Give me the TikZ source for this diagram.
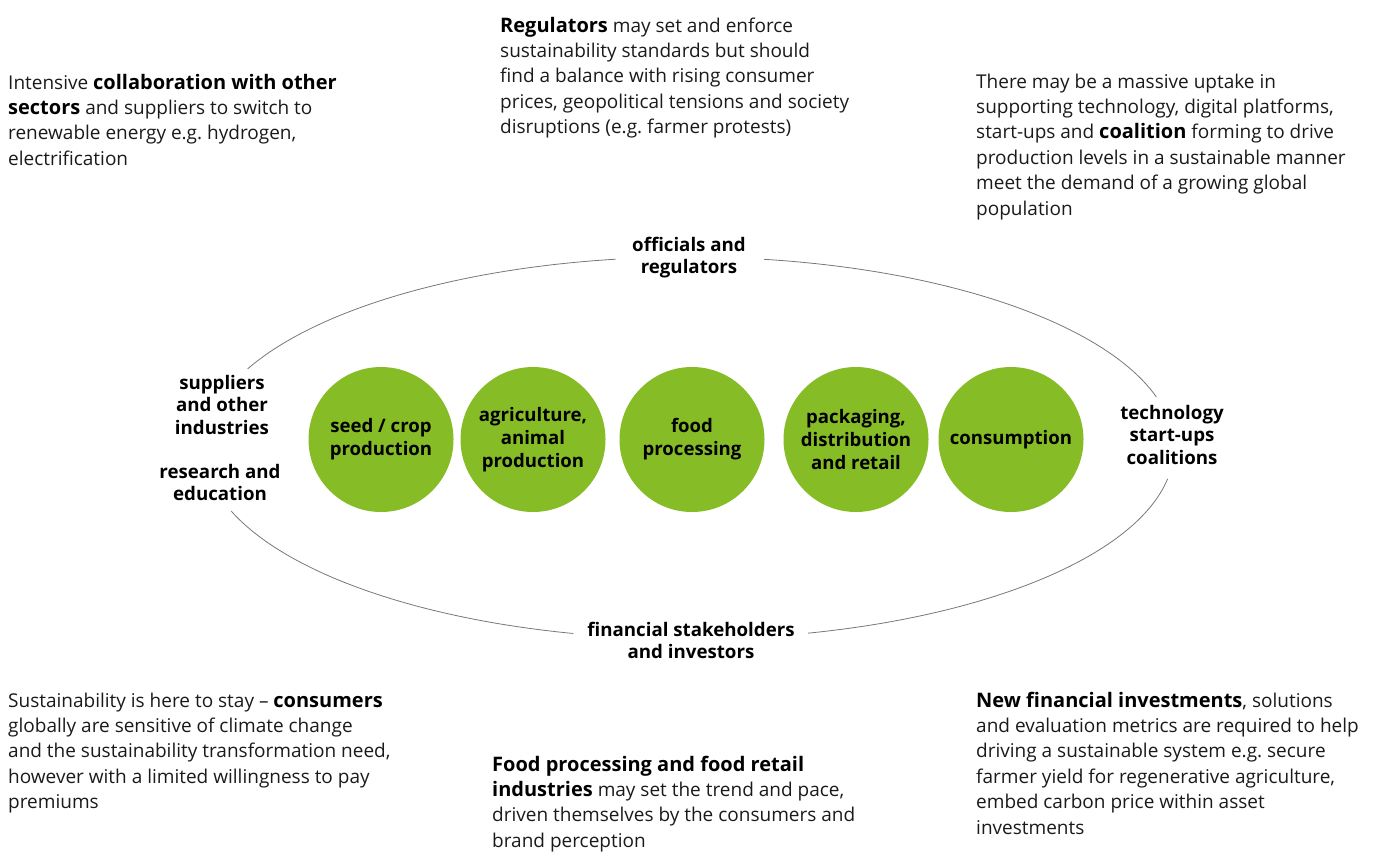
\documentclass[tikz,border=0pt]{standalone}
\usepackage{fontspec}
\setmainfont{Open Sans}
\frenchspacing
\definecolor{dgreen}{HTML}{86BC25}
\definecolor{ringgray}{HTML}{777777}
\definecolor{txtgray}{HTML}{1A1A1A}
\newcommand{\txtl}[1]{\begin{tabular}[t]{@{}l@{}}#1\end{tabular}}
\newcommand{\txtc}[1]{\begin{tabular}[t]{@{}c@{}}#1\end{tabular}}
\newcommand{\bb}[1]{{\bfseries\fontsize{20}{25.4}\selectfont\color{black}#1}}
\begin{document}
\begin{tikzpicture}[x=1pt,y=-1pt,
  body/.style={anchor=base west,inner sep=0pt,text=txtgray,font=\fontsize{19}{25.4}\selectfont},
  lbl/.style={anchor=base,inner sep=0pt,font=\bfseries\fontsize{18.7}{22.5}\selectfont},
  stage/.style={circle,fill=dgreen,minimum size=145pt,inner sep=0pt,align=center,
    font=\bfseries\fontsize{18.6}{23}\selectfont},
  ring/.style={draw=ringgray,line width=0.8pt}]
\useasboundingbox (0,0) rectangle (1383,852);

% ring
\coordinate (C) at (689,448);
\draw[ring] (C) ++(155.5:485pt and 191pt) arc[start angle=155.5,end angle=98.7,x radius=485pt,y radius=191pt];
\draw[ring] (C) ++(81.1:485pt and 191pt) arc[start angle=81.1,end angle=15.5,x radius=485pt,y radius=191pt];
\draw[ring] (C) ++(-9.3:485pt and 191pt) arc[start angle=-9.3,end angle=-75.8,x radius=485pt,y radius=191pt];
\draw[ring] (C) ++(256.2:485pt and 191pt) arc[start angle=256.2,end angle=199.3,x radius=485pt,y radius=191pt];

% stages
\node[stage] (s1) at (381,439.5) {seed / crop\\production};
\node[stage] (s2) at (533,439.5) {agriculture,\\animal\\production};
\node[stage] (s3) at (692,439.5) {food\\processing};
\node[stage] (s4) at (856,439.5) {packaging,\\distribution\\and retail};
\node[stage] (s5) at (1011,439.5) {consumption};

% ring labels
\node[lbl] (off) at (689,251) {\txtc{officials and\\regulators}};
\node[lbl] (sup) at (222,389) {\txtc{suppliers\\and other\\industries}};
\node[lbl] (res) at (220,478) {\txtc{research and\\education}};
\node[lbl] (tec) at (1172,419) {\txtc{technology\\start-ups\\coalitions}};
\node[lbl] (fin) at (691,636) {\txtc{financial stakeholders\\and investors}};

% explanatory texts
\node[body] (tl) at (8,89) {\txtl{Intensive \bb{collaboration with other}\\\bb{sectors} and suppliers to switch to\\renewable energy e.g. hydrogen,\\electrification}};
\node[body] (tc) at (500,32) {\txtl{\bb{Regulators} may set and enforce\\sustainability standards but should\\find a balance with rising consumer\\prices, geopolitical tensions and society\\disruptions (e.g. farmer protests)}};
\node[body] (tr) at (976,88) {\txtl{There may be a massive uptake in\\supporting technology, digital platforms,\\start-ups and \bb{coalition} forming to drive\\production levels in a sustainable manner\\meet the demand of a growing global\\population}};
\node[body] (bl) at (8,707) {\txtl{Sustainability is here to stay -- \bb{consumers}\\globally are sensitive of climate change\\and the sustainability transformation need,\\however with a limited willingness to pay\\premiums}};
\node[body] (bc) at (492,771) {\txtl{\bb{Food processing and food retail}\\\bb{industries} may set the trend and pace,\\driven themselves by the consumers and\\brand perception}};
\node[body] (br) at (976,707) {\txtl{\bb{New financial investments}, solutions\\and evaluation metrics are required to help\\driving a sustainable system e.g. secure\\farmer yield for regenerative agriculture,\\embed carbon price within asset\\investments}};
\end{tikzpicture}
\end{document}
